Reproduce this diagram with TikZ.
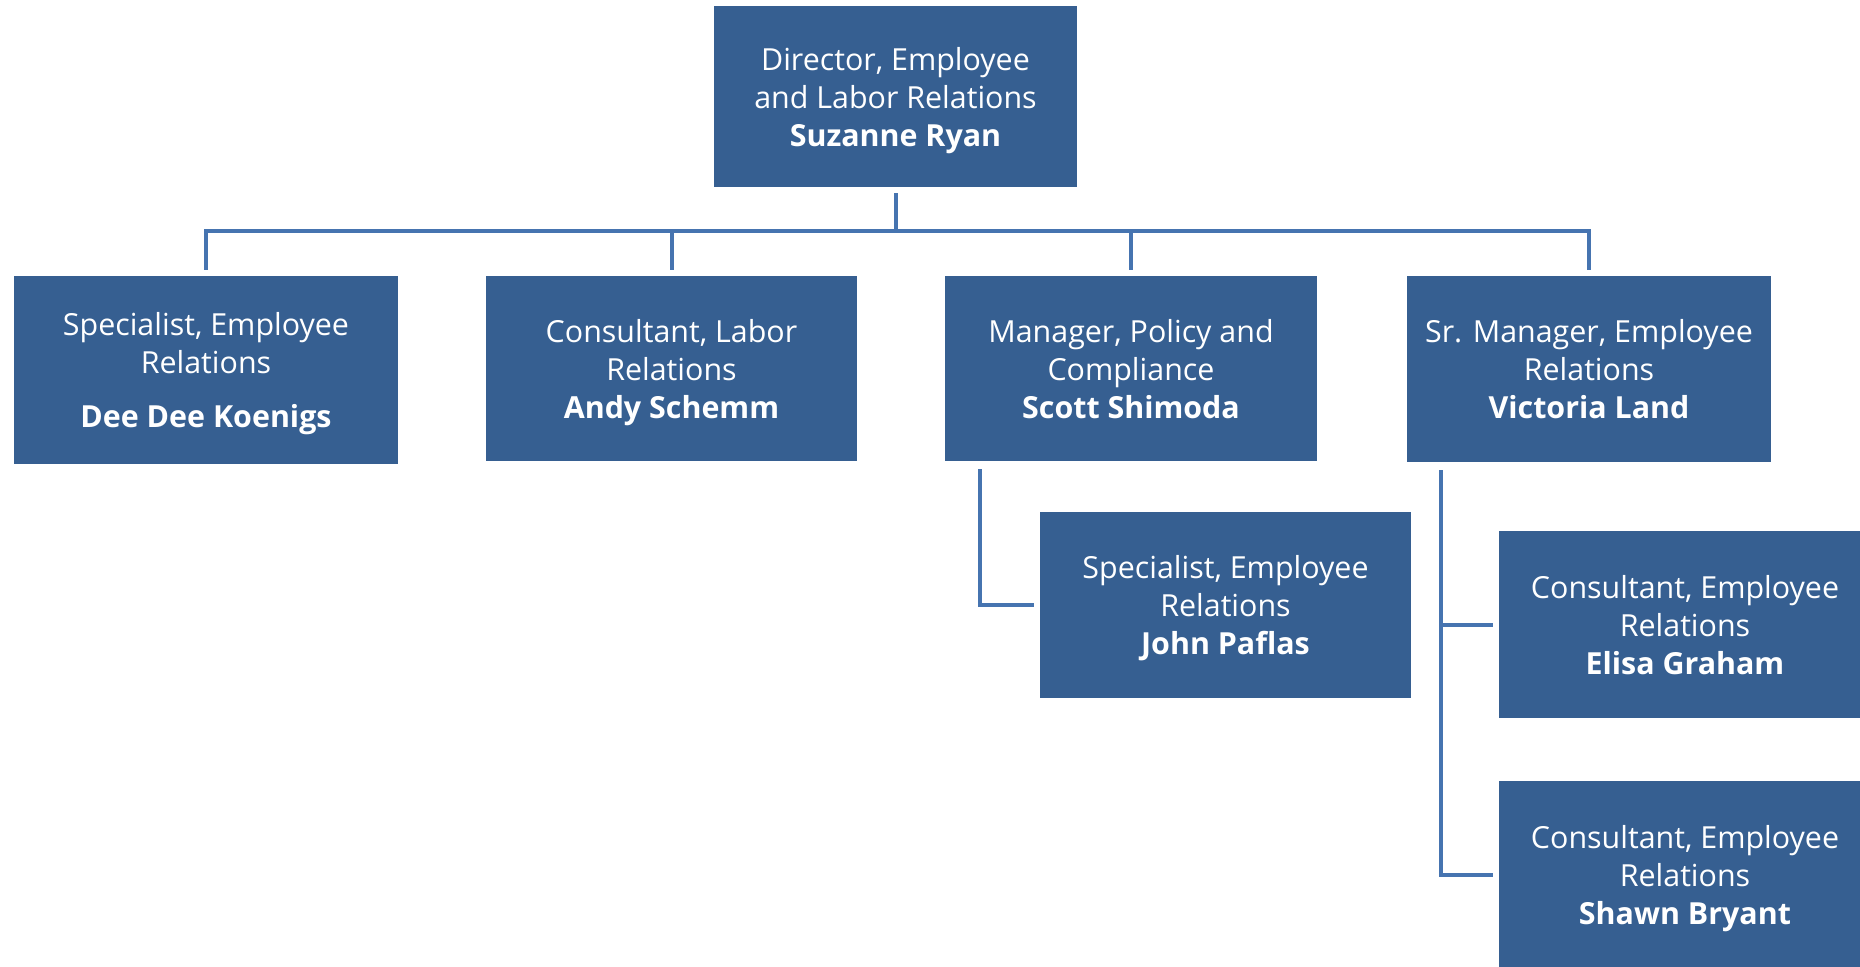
\documentclass[tikz,border=0pt]{standalone}
\usepackage{fontspec}
\setmainfont{Open Sans}
\usetikzlibrary{positioning}
\definecolor{boxblue}{RGB}{54,95,145}
\definecolor{lineblue}{RGB}{70,116,176}

\begin{document}
\begin{tikzpicture}[x = 0.5pt, y = -0.5pt,
		box/.style = {rectangle, fill = boxblue, text = white, align = center, inner sep = 0pt, text depth = 0pt, minimum width = 186pt, minimum height = 93pt, font = \fontsize{15.2}{19}\selectfont},
		conn/.style = {draw = lineblue, line width = 2pt}]
		
		\useasboundingbox (0,0) rectangle (1860,966);
		
		\node[box, minimum width = 181.5pt, minimum height = 90.5pt] at (895.5,96.5) (dir) {Director, Employee \\ and Labor Relations \\ \textbf{Suzanne Ryan}};
		\node[box, minimum width = 192pt, minimum height = 94pt] at (206,370) (sp) {Specialist, Employee \\ Relations \\[8pt] \textbf{Dee Dee Koenigs}};
		\node[box, minimum width = 185.5pt, minimum height = 92.5pt] at (671.5,368.5) (cl) {Consultant, Labor \\ Relations \\ \textbf{Andy Schemm}};
		\node[box, minimum height = 92.5pt] at (1131,368.5) (mp) {Manager, Policy and \\ Compliance \\ \textbf{Scott Shimoda}};
		\node[box, minimum width = 182pt] at (1589,369) (sm) {Sr. Manager, Employee \\ Relations \\ \textbf{Victoria Land}};
		\node[box, minimum width = 185.5pt] at (1225.5,605) (jp) {Specialist, Employee \\ Relations \\ \textbf{John Paflas}};
		\node[box, minimum height = 93.5pt] at (1685,624.5) (eg) {Consultant, Employee \\ Relations \\ \textbf{Elisa Graham}};
		\node[box, minimum height = 93.5pt] at (1685,874.5) (sb) {Consultant, Employee \\ Relations \\ \textbf{Shawn Bryant}};
		
		\coordinate (bus) at (895.5,231);
		
		\draw[conn, shorten <= 3pt] (dir) -- (bus);
		\draw[conn, shorten >= 3pt] (bus) -| (sp);
		\draw[conn, shorten >= 3pt] (bus) -| (cl);
		\draw[conn, shorten >= 3pt] (bus) -| (mp);
		\draw[conn, shorten >= 3pt] (bus) -| (sm);
		\draw[conn, shorten <= 4pt, shorten >= 3pt] ([xshift = 17.5pt]mp.south west) |- (jp);
		\draw[conn, shorten <= 4pt, shorten >= 3pt] ([xshift = 17pt]sm.south west) |- (eg);
		\draw[conn, shorten <= 4pt, shorten >= 3pt] ([xshift = 17pt]sm.south west) |- (sb);
		
\end{tikzpicture}
\end{document}
